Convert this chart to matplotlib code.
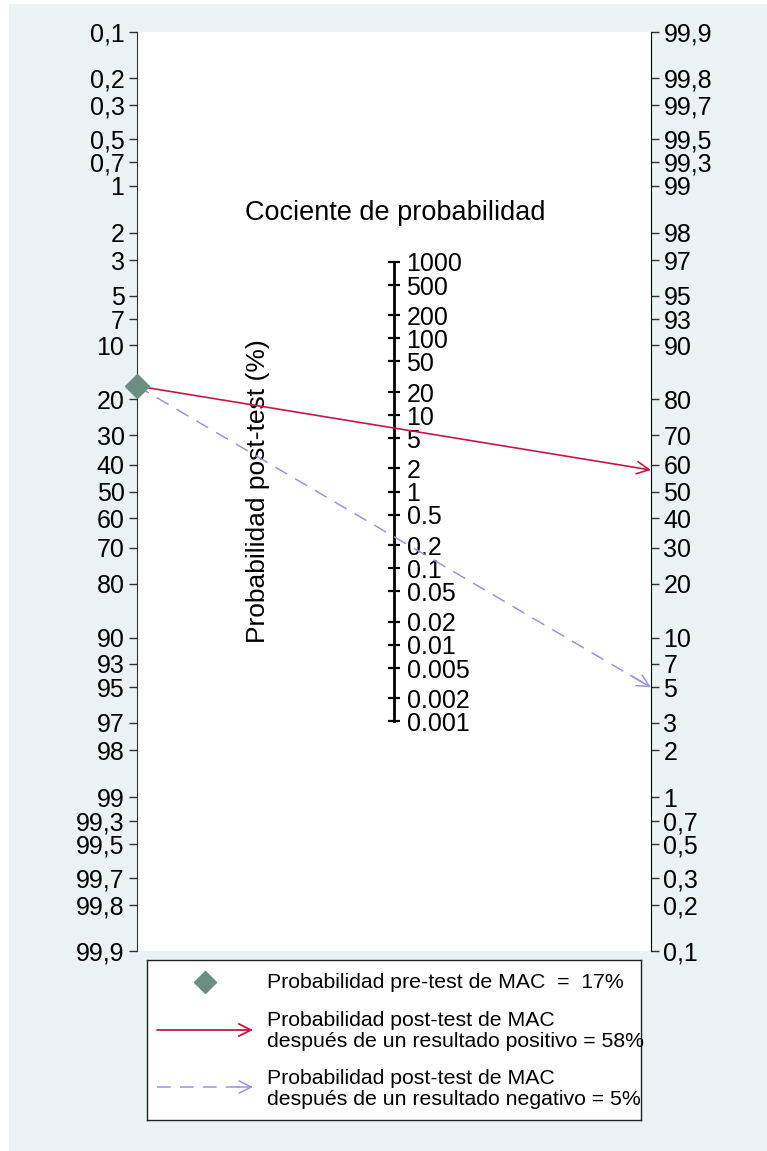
import numpy as np
import matplotlib
matplotlib.use('Agg')
import matplotlib.pyplot as plt
from matplotlib.patches import Rectangle

plt.rcParams['font.family'] = ['Liberation Sans', 'DejaVu Sans']

# values (%)
prob_ticks = [0.1, 0.2, 0.3, 0.5, 0.7, 1, 2, 3, 5, 7, 10, 20, 30, 40, 50, 60, 70,
              80, 90, 93, 95, 97, 98, 99, 99.3, 99.5, 99.7, 99.8, 99.9]
lr_ticks = [1000, 500, 200, 100, 50, 20, 10, 5, 2, 1, 0.5, 0.2, 0.1, 0.05,
            0.02, 0.01, 0.005, 0.002, 0.001]
lr_labels = ['1000', '500', '200', '100', '50', '20', '10', '5', '2', '1', '0.5',
             '0.2', '0.1', '0.05', '0.02', '0.01', '0.005', '0.002', '0.001']
pre_test = 17
post_pos = 58
post_neg = 5

RED = '#c8173f'
LAV = '#9a94dc'
TEAL = '#6b8e80'
BG = '#eaf2f3'
TICK_FS = 18


def logit(p):
    p = np.asarray(p, dtype=float) / 100.0
    return np.log(p / (1 - p))


def fmt(v):
    return f'{v:g}'.replace('.', ',')


W, H = 767, 1151
fig = plt.figure(figsize=(W / 100, H / 100), dpi=100, facecolor='white')
fig.patches.append(Rectangle((9 / W, 0), 1, 1 - 4 / H, transform=fig.transFigure,
                             facecolor=BG, edgecolor='none', zorder=-10))

ax = fig.add_axes([137 / W, 1 - 951 / H, 514 / W, 919 / H])
ax.set_facecolor('white')
L = float(logit(99.9))
ax.set_xlim(0, 1)
ax.set_ylim(-L, L)
ax.spines['top'].set_visible(False)
ax.spines['bottom'].set_visible(False)
ax.spines['right'].set_visible(False)
ax.spines['left'].set_color('#333333')
ax.set_xticks([])

# left axis: pre-test probability
ax.set_yticks(-logit(prob_ticks))
ax.set_yticklabels([fmt(v) for v in prob_ticks])
ax.tick_params(axis='y', direction='out', length=6, width=1, colors='#333333',
               labelcolor='black', labelsize=TICK_FS, pad=3)

# right axis: post-test probability
ax2 = ax.twinx()
ax2.set_ylim(-L, L)
for s in ['top', 'bottom', 'left']:
    ax2.spines[s].set_visible(False)
ax2.spines['right'].set_color('black')
ax2.set_yticks(logit(prob_ticks))
ax2.set_yticklabels([fmt(v) for v in prob_ticks])
ax2.tick_params(axis='y', direction='out', length=6, width=1, colors='#333333',
                labelcolor='black', labelsize=TICK_FS, pad=3)

# middle axis: likelihood ratio
lr_y = np.log(lr_ticks) / 2
ax.plot([0.5, 0.5], [lr_y.min(), lr_y.max()], color='black', lw=2)
ax.plot(np.full(len(lr_y), 0.5), lr_y, ls='none', marker='_', ms=9, mew=1.6,
        color='black')
for yv, lab in zip(lr_y, lr_labels):
    ax.annotate(lab, (0.5, yv), xytext=(9, -2), textcoords='offset points',
                ha='left', va='center', fontsize=TICK_FS)

ax.text(0.503, 0.803, 'Cociente de probabilidad', transform=ax.transAxes,
        ha='center', va='center', fontsize=19.5)
ax.text(0.235, 0.5, 'Probabilidad post-test (%)', transform=ax.transAxes,
        ha='center', va='center', rotation=90, fontsize=19)

# lines
y0 = -float(logit(pre_test))
y_pos = float(logit(post_pos))
y_neg = float(logit(post_neg))
ax.annotate('', xy=(1, y_pos), xytext=(0, y0),
            arrowprops=dict(arrowstyle='->', color=RED, lw=1.2, shrinkA=0,
                            shrinkB=0, mutation_scale=22),
            annotation_clip=False, zorder=4)
ax.plot([0, 1], [y0, y_neg], color=LAV, lw=1.1, dashes=(9, 6), zorder=4,
        clip_on=False)
ax.annotate('', xy=(1, y_neg), xytext=(0.96, y0 + 0.96 * (y_neg - y0)),
            arrowprops=dict(arrowstyle='->', color=LAV, lw=1.1, shrinkA=0,
                            shrinkB=0, mutation_scale=22),
            annotation_clip=False, zorder=4)
ax.plot([0], [y0], marker='D', ms=12, color=TEAL, ls='none', clip_on=False,
        zorder=5)

# legend box
lg = fig.add_axes([147 / W, 1 - 1120 / H, 494 / W, 160 / H])
lg.set_facecolor('white')
lg.set_xlim(0, 494)
lg.set_ylim(160, 0)
lg.set_xticks([])
lg.set_yticks([])
for s in lg.spines.values():
    s.set_color('#222222')
    s.set_linewidth(1)
lg.plot([58], [22], marker='D', ms=11, color=TEAL, ls='none')
lg.annotate('', xy=(106, 70), xytext=(10, 70),
            arrowprops=dict(arrowstyle='->', color=RED, lw=1.3, shrinkA=0,
                            shrinkB=0, mutation_scale=22))
lg.plot([10, 100], [127, 127], color=LAV, lw=1.1, dashes=(9, 6))
lg.annotate('', xy=(106, 127), xytext=(90, 127),
            arrowprops=dict(arrowstyle='->', color=LAV, lw=1.1, shrinkA=0,
                            shrinkB=0, mutation_scale=22))
lg.text(120, 22, f'Probabilidad pre-test de MAC  =  {pre_test}%',
        ha='left', va='center', fontsize=15.3)
lg.text(120, 71, 'Probabilidad post-test de MAC\n'
        f'después de un resultado positivo = {post_pos}%',
        ha='left', va='center', fontsize=15.3, linespacing=1.15)
lg.text(120, 129, 'Probabilidad post-test de MAC\n'
        f'después de un resultado negativo = {post_neg}%',
        ha='left', va='center', fontsize=15.3, linespacing=1.15)

fig.savefig('out.png', dpi=100, facecolor=fig.get_facecolor())
